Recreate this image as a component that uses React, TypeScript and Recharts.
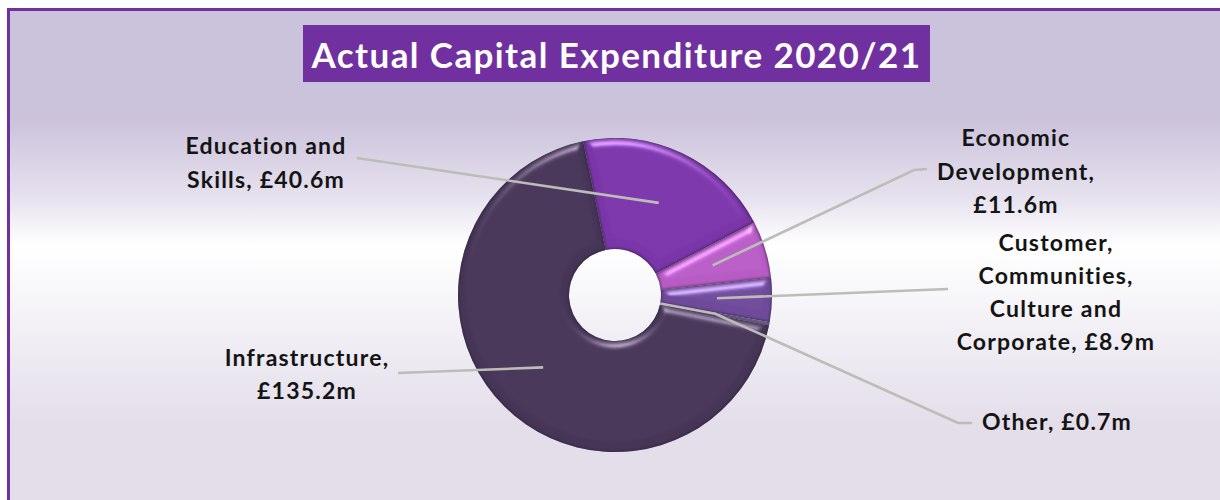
import React from "react";
import { PieChart, Pie, Cell } from "recharts";

const categories = [
  "Education and Skills",
  "Economic Development",
  "Customer, Communities, Culture and Corporate",
  "Other",
  "Infrastructure",
];
const spend = [40.6, 11.6, 8.9, 0.7, 135.2];
const sliceColors = ["#7a35a8", "#b65cc4", "#6f4a9a", "#8d7bab", "#463557"];
const labelRows = [
  ["Education and", "Skills, £40.6m"],
  ["Economic", "Development,", "£11.6m"],
  ["Customer,", "Communities,", "Culture and", "Corporate, £8.9m"],
  ["Other, £0.7m"],
  ["Infrastructure,", "£135.2m"],
];

// where each label block sits and where its leader line finishes
const labelCentres = [
  { x: 266, y: 146, gap: 34 },
  { x: 1016, y: 138, gap: 33.5 },
  { x: 1056, y: 243, gap: 33 },
  { x: 1057, y: 422, gap: 33 },
  { x: 307, y: 358, gap: 33 },
];
const leaderEnds = [
  [[357, 158]],
  [[927, 169], [914, 170]],
  [[948, 289]],
  [[972, 423], [958, 423]],
  [[398, 373]],
];

const data = categories.map((name, i) => ({ name, value: spend[i] }));

const CX = 615;
const CY = 295;
const INNER = 46;
const OUTER = 157;
const RAD = Math.PI / 180;
const FONT = "Lato, 'Open Sans', sans-serif";

const polar = (r: number, angle: number) => [
  CX + r * Math.cos(angle * RAD),
  CY - r * Math.sin(angle * RAD),
];

const renderLeader = (props: any) => {
  const i = props.index;
  const pts = [...leaderEnds[i], polar(102, props.midAngle)];
  // the Other line carries on to the inner edge of its thin slice
  if (categories[i] === "Other") pts.push(polar(INNER, props.midAngle));
  return (
    <polyline
      key={"leader-" + i}
      points={pts.map((p) => p.join(",")).join(" ")}
      fill="none"
      stroke="#bdbdb8"
      strokeWidth={2.6}
    />
  );
};

const renderLabel = (props: any) => {
  const i = props.index;
  const pos = labelCentres[i];
  return (
    <text
      key={"label-" + i}
      textAnchor="middle"
      fontFamily={FONT}
      fontWeight={700}
      fontSize={23}
      letterSpacing={1.2}
      fill="#141414"
    >
      {labelRows[i].map((row, j) => (
        <tspan key={j} x={pos.x} y={pos.y + j * pos.gap} dy="0.35em">
          {row}
        </tspan>
      ))}
    </text>
  );
};

export default function App() {
  return (
    <div
      style={{
        position: "absolute",
        left: 0,
        top: 0,
        width: 1220,
        height: 500,
        background: "#fff",
        overflow: "hidden",
      }}
    >
      <div
        style={{
          position: "absolute",
          left: 7,
          top: 8,
          width: 1213,
          height: 492,
          boxSizing: "border-box",
          borderTop: "3px solid #7030a0",
          borderLeft: "3px solid #7030a0",
          background:
            "linear-gradient(180deg, #cbc2db 0%, #cbc2db 22%, #e6e1ee 38%, #ffffff 48%, #f1eff5 66%, #e4deea 84%, #e4deea 100%)",
        }}
      />
      <div
        style={{
          position: "absolute",
          left: 303,
          top: 25,
          width: 627,
          height: 57,
          background: "#7030a0",
          color: "#fff",
          fontFamily: FONT,
          fontWeight: 700,
          fontSize: 35,
          letterSpacing: 1.4,
          lineHeight: "59px",
          textAlign: "center",
          whiteSpace: "nowrap",
        }}
      >
        Actual Capital Expenditure 2020/21
      </div>
      <div style={{ position: "absolute", left: 0, top: 0 }}>
        <PieChart width={1220} height={500} margin={{ top: 0, right: 0, bottom: 0, left: 0 }}>
          <defs>
            <filter id="bevel" x="-5%" y="-5%" width="110%" height="110%" colorInterpolationFilters="sRGB">
              <feGaussianBlur in="SourceAlpha" stdDeviation="4" result="soft" />
              <feSpecularLighting
                in="soft"
                surfaceScale="7"
                specularConstant="0.9"
                specularExponent="18"
                lightingColor="#ffffff"
                result="spec"
              >
                <feDistantLight azimuth="265" elevation="22" />
              </feSpecularLighting>
              <feComposite in="spec" in2="SourceAlpha" operator="in" result="specIn" />
              <feComposite in="SourceGraphic" in2="specIn" operator="arithmetic" k1="0" k2="1" k3="0.45" k4="0" result="lit" />
              <feMorphology in="SourceAlpha" operator="erode" radius="1" result="thin" />
              <feGaussianBlur in="thin" stdDeviation="0.8" result="thinSoft" />
              <feComposite in="SourceAlpha" in2="thinSoft" operator="out" result="rim" />
              <feFlood floodColor="#2c2038" floodOpacity="0.55" />
              <feComposite in2="rim" operator="in" result="rimDark" />
              <feMerge>
                <feMergeNode in="lit" />
                <feMergeNode in="rimDark" />
              </feMerge>
            </filter>
          </defs>
          <Pie
            data={data}
            dataKey="value"
            nameKey="name"
            cx={CX}
            cy={CY}
            innerRadius={INNER}
            outerRadius={OUTER}
            startAngle={101.7}
            endAngle={-258.3}
            stroke="none"
            label={renderLabel}
            labelLine={renderLeader}
            isAnimationActive={false}
          >
            {data.map((d, i) => (
              <Cell key={d.name} fill={sliceColors[i]} filter="url(#bevel)" />
            ))}
          </Pie>
        </PieChart>
      </div>
    </div>
  );
}
